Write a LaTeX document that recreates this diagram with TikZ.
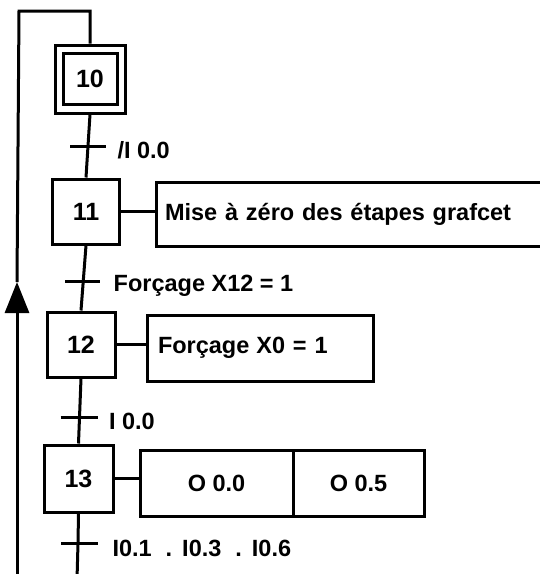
\documentclass[tikz,border=0pt]{standalone}
\usepackage{fontspec}
\setmainfont{Liberation Sans}
\usetikzlibrary{calc,arrows.meta}
\tikzset{
  lbl/.style={font=\fontsize{23.5}{27}\selectfont\bfseries, inner sep=0pt},
  stepbox/.style={draw, lbl, font=\fontsize{25}{28}\selectfont\bfseries, minimum width=#1, minimum height=66pt},
  actbox/.style={draw, lbl, minimum height=65pt},
  tick/.style={line width=3pt},
  cond/.style={lbl, anchor=west}
}
\begin{document}
\begin{tikzpicture}[x=1pt,y=-1pt,line width=3pt]
\useasboundingbox (0,0) rectangle (540,574);
\clip (0,0) rectangle (540,574);
% steps
\node[draw, minimum width=70pt, minimum height=68pt] (s10) at (90,79) {};
\node[stepbox=54pt, minimum height=51pt] (s10i) at (90,78.5) {10};
\node[stepbox=67pt, minimum height=65pt] (s11) at (86,211.5) {11};
\node[stepbox=68pt, minimum height=65pt] (s12) at (81,344.5) {12};
\node[stepbox=69pt, minimum height=67pt] (s13) at (78.5,478.5) {13};
% actions
\node[actbox, minimum height=64pt, text width=371pt, inner xsep=9pt, align=left] (a11) at (350.5,214) {Mise à zéro des étapes grafcet};
\node[actbox, minimum height=66pt, text width=204pt, inner xsep=11pt, align=left] (a12) at (260,348) {Forçage\hspace{7pt}X0 = 1};
\node[actbox, minimum width=153pt, minimum height=66pt] (a13a) at (216.5,483) {O 0.0};
\node[actbox, minimum width=131pt, minimum height=66pt] (a13b) at (358.5,483) {O 0.5};
% action links
\draw (s11.east) -- (s11.east -| a11.west);
\draw (s12.east) -- (s12.east -| a12.west);
\draw (s13.east) -- (s13.east -| a13a.west);
% transitions
\coordinate (t1) at ($(s10.south)!0.5!(s11.north)$);
\coordinate (t2) at ($(s11.south)!0.56!(s12.north)$);
\coordinate (t3) at ($(s12.south)!0.6!(s13.north)$);
\coordinate (t4) at (78,543);
\coordinate (bot) at (77,580);
\draw (s10.south) -- (t1) -- (s11.north);
\draw (s11.south) -- (t2) -- (s12.north);
\draw (s12.south) -- (t3) -- (s13.north);
\draw (s13.south) -- (t4) -- (bot);
\draw[tick] ([xshift=-18pt]t1) -- ([xshift=18pt]t1);
\draw[tick] ([xshift=-18pt]t2) -- ([xshift=17pt]t2);
\draw[tick] ([xshift=-19pt]t3) -- ([xshift=18pt]t3);
\draw[tick] ([xshift=-17pt]t4) -- ([xshift=20pt]t4);
\node[cond] (c1) at ([xshift=28pt,yshift=-4pt]t1) {/I 0.0};
\node[cond] (c2) at ([xshift=29pt,yshift=-4pt]t2) {Forçage X12 = 1};
\node[cond] (c3) at ([xshift=28pt,yshift=-4pt]t3) {I 0.0};
\node[cond] (c4) at ([xshift=33pt,yshift=-5pt]t4) {I0.1\hspace{14pt}.\hspace{10pt}I0.3\hspace{14pt}.\hspace{10pt}I0.6};
% loop back
\coordinate (lb) at (17,580);
\coordinate (la) at (17,282);
\coordinate (lt) at (19,11);
\draw[-{Triangle[length=31pt,width=24pt]}] (lb) -- (la);
\draw (la) -- (lt) -| (s10.north);
\end{tikzpicture}
\end{document}
